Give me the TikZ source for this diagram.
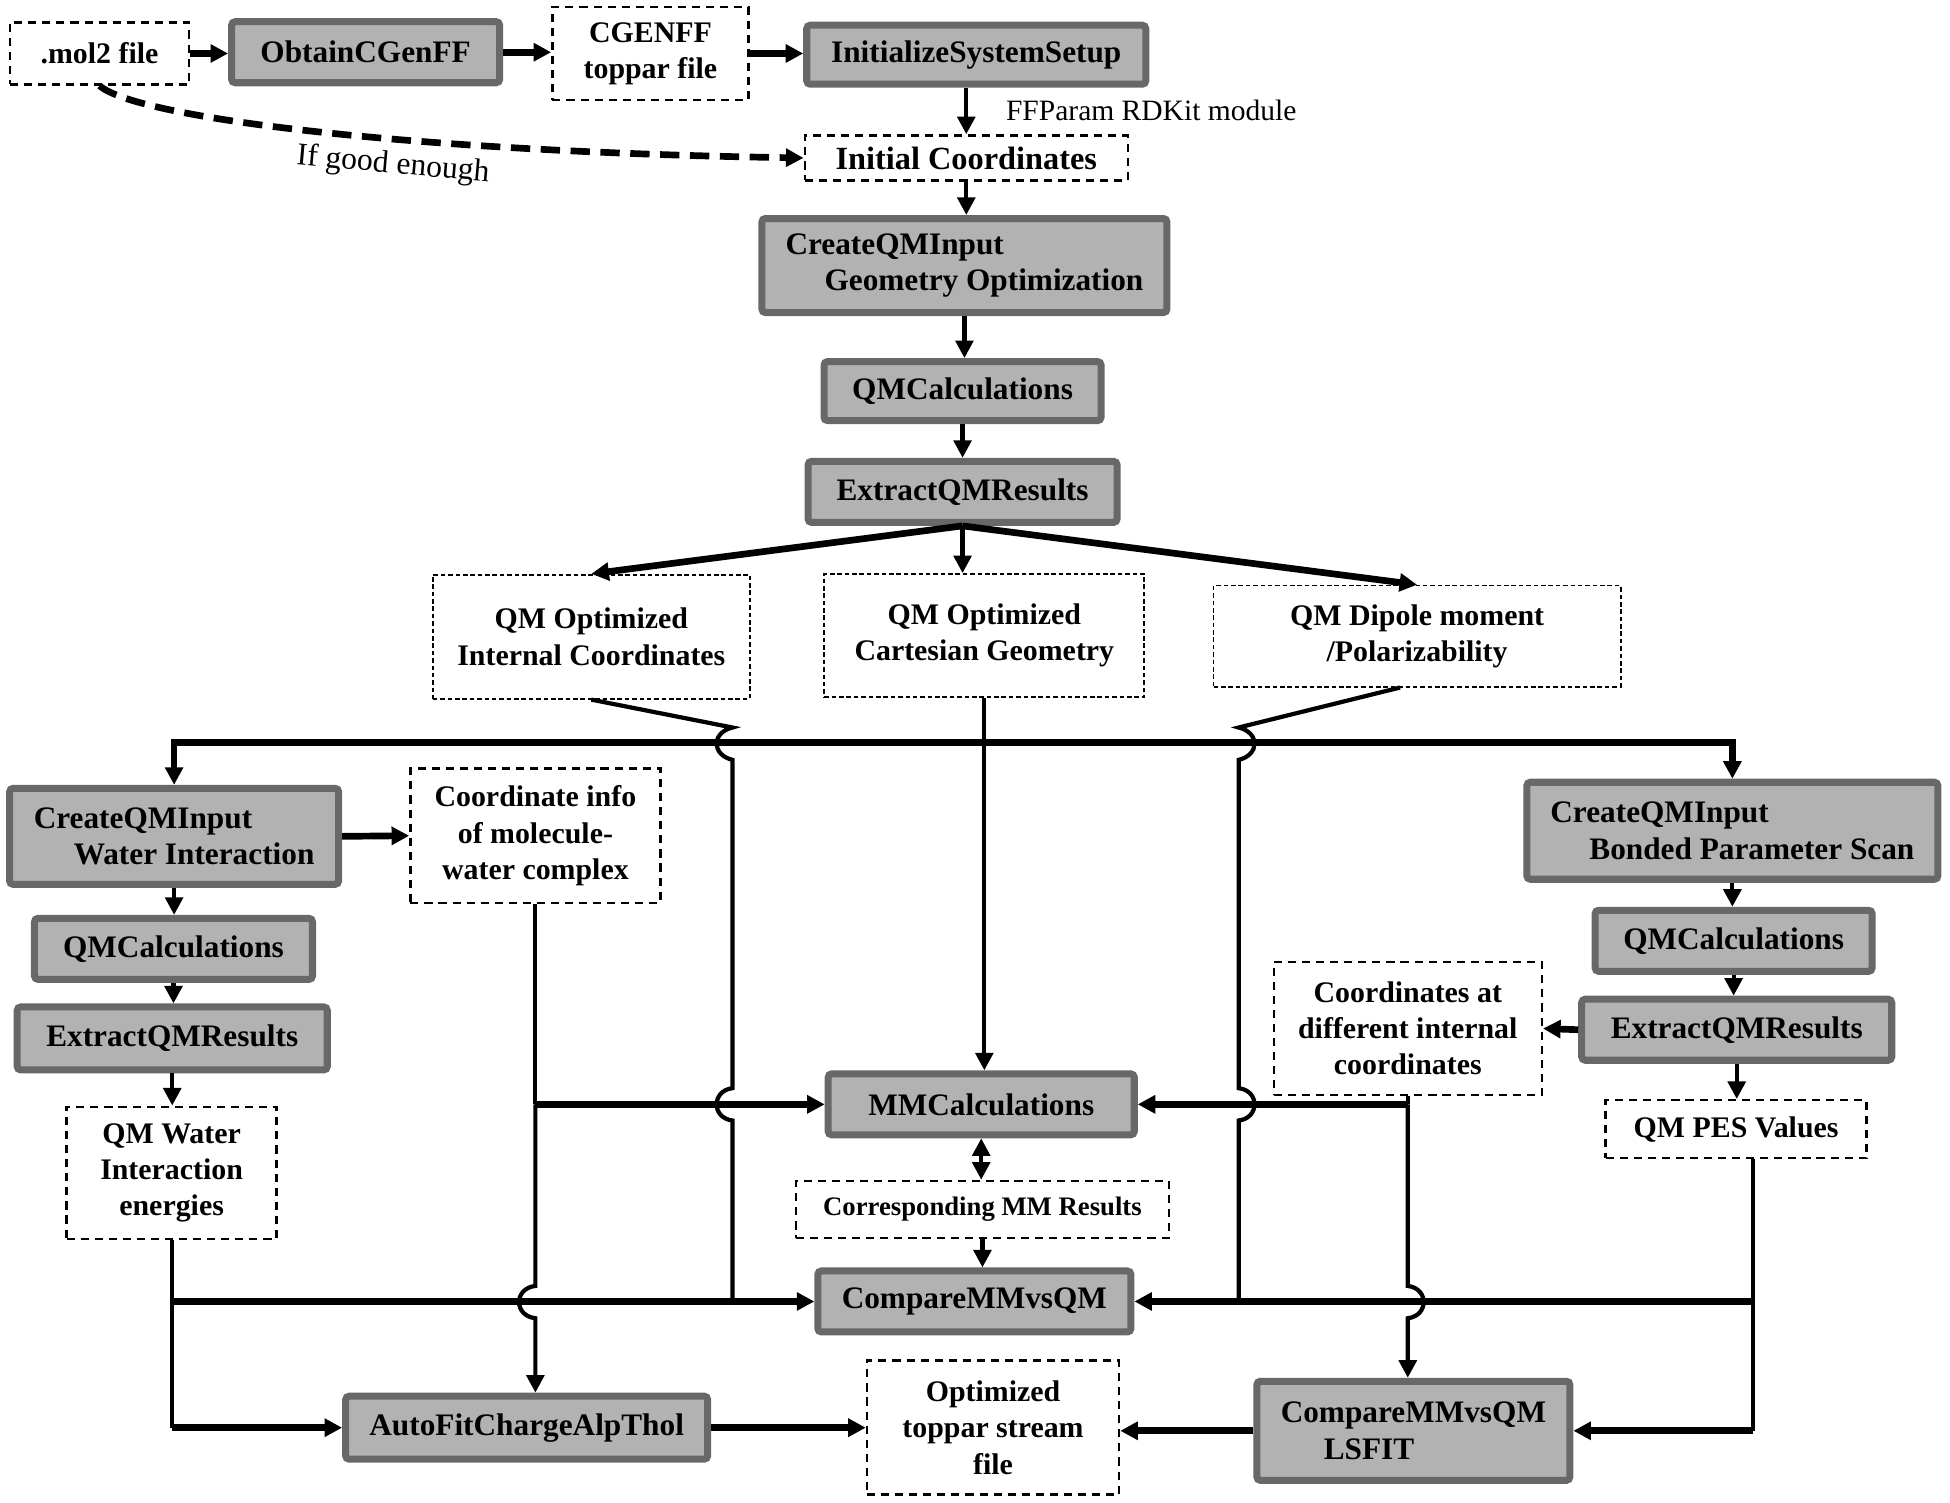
\documentclass[tikz,border=0pt]{standalone}
\usepackage{fontspec}
\setmainfont{Liberation Serif}
\usepackage{tikz}
\usetikzlibrary{arrows.meta}
\definecolor{boxfill}{RGB}{178,178,178}
\definecolor{boxedge}{RGB}{104,104,104}

\begin{document}
\begin{tikzpicture}[x=0.012436cm, y=-0.012436cm,
  font=\fontsize{8.5}{10.3}\selectfont\bfseries,
  >={Triangle[length=5pt,width=5pt]},
  procbox/.style={draw=boxedge, fill=boxfill, line width=2pt, rounded corners=1pt, inner sep=0pt, align=center, font=\fontsize{8.9}{10.5}\selectfont\bfseries},
  databox/.style={draw, line width=0.7pt, dash pattern=on 2.3pt off 1.7pt, inner sep=0pt, align=center},
  resbox/.style={draw, line width=0.5pt, dash pattern=on 1.3pt off 0.8pt, inner sep=0pt, align=center},
  link/.style={line width=1.2pt},
  arr/.style={->, line width=1.2pt},
  arrthick/.style={->, line width=1.9pt}]
  \useasboundingbox (0,0) rectangle (1568,1208);

  \node[databox, minimum width=1.79cm, minimum height=0.62cm] (mol2) at (80,43) {.mol2 file};
  \node[procbox, minimum width=2.68cm, minimum height=0.61cm] (obtain) at (294,42) {ObtainCGenFF};
  \node[databox, minimum width=1.96cm, minimum height=0.93cm] (cgenff) at (523,43) {CGENFF\\toppar file};
  \node[procbox, minimum width=3.39cm, minimum height=0.59cm] (setup) at (785,44) {InitializeSystemSetup};
  \node[anchor=west, font=\fontsize{8.4}{10}\selectfont\mdseries] (rdkit) at (799,89) {FFParam RDKit module};
  \node[databox, minimum width=3.23cm, minimum height=0.45cm, font=\fontsize{9.2}{11}\selectfont\bfseries] (initcoord) at (777,127) {Initial Coordinates};
  \node[rotate=-5, font=\fontsize{9}{10}\selectfont\mdseries] (goodlbl) at (316,133) {If good enough};

  \node[procbox, minimum width=4.05cm, minimum height=0.94cm, align=left] (geomopt) at (775.5,213.5) {CreateQMInput\\\hspace*{0.39cm}Geometry Optimization};
  \node[procbox, minimum width=2.77cm, minimum height=0.59cm] (qmcalc) at (774,314.5) {QMCalculations};
  \node[procbox, minimum width=3.09cm, minimum height=0.61cm] (extract) at (774,395.5) {ExtractQMResults};

  \node[resbox, minimum width=3.17cm, minimum height=1.24cm] (intcoord) at (475.5,512) {QM Optimized\\Internal Coordinates};
  \node[resbox, minimum width=3.20cm, minimum height=1.23cm] (cartgeom) at (791.5,511) {QM Optimized\\Cartesian Geometry};
  \node[resbox, minimum width=4.07cm, minimum height=1.01cm] (dipole) at (1139.5,511.5) {QM Dipole moment\\/Polarizability};

  \node[procbox, minimum width=3.29cm, minimum height=0.96cm, align=left] (waterinp) at (140,672.5) {CreateQMInput\\\hspace*{0.4cm}Water Interaction};
  \node[databox, minimum width=2.50cm, minimum height=1.34cm] (coordinfo) at (430.5,672) {Coordinate info\\of molecule-\\water complex};
  \node[procbox, minimum width=2.78cm, minimum height=0.61cm] (qmcalcW) at (139.5,763) {QMCalculations};
  \node[procbox, minimum width=3.10cm, minimum height=0.63cm] (extractW) at (138.5,835) {ExtractQMResults};
  \node[databox, minimum width=2.10cm, minimum height=1.32cm] (waterE) at (138,943) {QM Water\\Interaction\\energies};

  \node[procbox, minimum width=4.11cm, minimum height=0.97cm, align=left] (bondinp) at (1393,668) {CreateQMInput\\\hspace*{0.39cm}Bonded Parameter Scan};
  \node[procbox, minimum width=2.77cm, minimum height=0.61cm] (qmcalcB) at (1394,756.5) {QMCalculations};
  \node[procbox, minimum width=3.10cm, minimum height=0.61cm] (extractB) at (1396.5,828) {ExtractQMResults};
  \node[databox, minimum width=2.68cm, minimum height=1.33cm] (coorddiff) at (1132,827) {Coordinates at\\different internal\\coordinates};
  \node[databox, minimum width=2.61cm, minimum height=0.58cm] (pes) at (1396,908) {QM PES Values};

  \node[procbox, minimum width=3.06cm, minimum height=0.61cm] (mmcalc) at (789,888) {MMCalculations};
  \node[databox, minimum width=3.73cm, minimum height=0.57cm, font=\fontsize{7.6}{9}\selectfont\bfseries] (corrmm) at (790,972.5) {Corresponding MM Results};
  \node[procbox, minimum width=3.13cm, minimum height=0.61cm] (compare) at (783.5,1046.5) {CompareMMvsQM};
  \node[procbox, minimum width=3.62cm, minimum height=0.63cm] (autofit) at (423.5,1148) {AutoFitChargeAlpThol};
  \node[databox, minimum width=2.52cm, minimum height=1.34cm] (stream) at (798.5,1148) {Optimized\\toppar stream\\file};
  \node[procbox, minimum width=3.13cm, minimum height=0.99cm, align=left] (lsfit) at (1136.5,1150.5) {CompareMMvsQM\\\hspace*{0.43cm}LSFIT};

  \draw[arrthick] (mol2.east) -- (mol2.east -| obtain.west);
  \draw[arrthick] (obtain.east) -- (obtain.east -| cgenff.west);
  \draw[arrthick] (cgenff.east) -- (cgenff.east -| setup.west);
  \draw[arr] (initcoord.north |- setup.south) -- (initcoord.north);
  \draw[arrthick, dash pattern=on 5.5pt off 3pt] (mol2.south) .. controls (110,95) and (330,122) .. (initcoord.west);
  \draw[arr] (initcoord.south) -- (initcoord.south |- geomopt.north);
  \draw[arr] (geomopt.south) -- (geomopt.south |- qmcalc.north);
  \draw[arr] (qmcalc.south) -- (extract.north);

  \draw[arrthick] (extract.south) -- (intcoord.north);
  \draw[arr] (extract.south) -- (extract.south |- cartgeom.north);
  \draw[arrthick] (extract.south) -- (dipole.north);

  \coordinate (busy) at (0,597);
  \draw[arrthick, <->] (waterinp.north) -- (waterinp.north |- busy) -- (bondinp.north |- busy) -- (bondinp.north);

  \draw[link] (intcoord.south) -- (589,585) .. controls (572,589) and (572,607) .. (589,611) -- (589,875) .. controls (572,877) and (572,899) .. (589,901) -- (589,1047);
  \draw[link] ([xshift=-0.17cm]dipole.south) -- (996,585) .. controls (1013,589) and (1013,607) .. (996,611) -- (996,875) .. controls (1013,877) and (1013,899) .. (996,901) -- (996,1047);
  \draw[arr] (cartgeom.south) -- (cartgeom.south |- mmcalc.north);

  \draw[arrthick] (waterinp.east) -- (coordinfo.west);
  \draw[arr] (waterinp.south) -- (waterinp.south |- qmcalcW.north);
  \draw[arr] (qmcalcW.south) -- (qmcalcW.south |- extractW.north);
  \draw[arr] (extractW.south) -- (extractW.south |- waterE.north);
  \draw[link] (waterE.south) -- (waterE.south |- autofit.west);
  \draw[arrthick] (waterE.south |- autofit.west) -- (autofit.west);
  \draw[arrthick] (waterE.south |- compare.west) -- (compare.west);

  \coordinate (jinfo) at (coordinfo.south |- mmcalc.west);
  \draw[link] (coordinfo.south) -- (jinfo);
  \draw[arrthick] (jinfo) -- (mmcalc.west);
  \draw[arr] (jinfo) -- (430.5,1034) .. controls (413,1036) and (413,1058) .. (430.5,1060) -- (jinfo |- autofit.north);

  \draw[arr] (bondinp.south) -- (bondinp.south |- qmcalcB.north);
  \draw[arr] (qmcalcB.south) -- (qmcalcB.south |- extractB.north);
  \draw[arrthick] (extractB.west) -- (coorddiff.east);
  \draw[arr] (extractB.south) -- (extractB.south |- pes.north);
  \coordinate (pesout) at ([xshift=0.17cm]pes.south);
  \draw[link] (pesout) -- (pesout |- lsfit.east);
  \draw[arrthick] (pesout |- lsfit.east) -- (lsfit.east);
  \draw[arrthick] (pesout |- compare.east) -- (compare.east);

  \coordinate (jdiff) at (coorddiff.south |- mmcalc.east);
  \draw[link] (coorddiff.south) -- (jdiff);
  \draw[arrthick] (jdiff) -- (mmcalc.east);
  \draw[arr] (jdiff) -- (1132,1034) .. controls (1149,1036) and (1149,1058) .. (1132,1060) -- (jdiff |- lsfit.north);

  \draw[arr, <->] (mmcalc.south) -- (mmcalc.south |- corrmm.north);
  \draw[arr] (corrmm.south) -- (corrmm.south |- compare.north);
  \draw[arrthick] (autofit.east) -- (autofit.east -| stream.west);
  \draw[arrthick] (lsfit.west) -- (lsfit.west -| stream.east);
\end{tikzpicture}
\end{document}
